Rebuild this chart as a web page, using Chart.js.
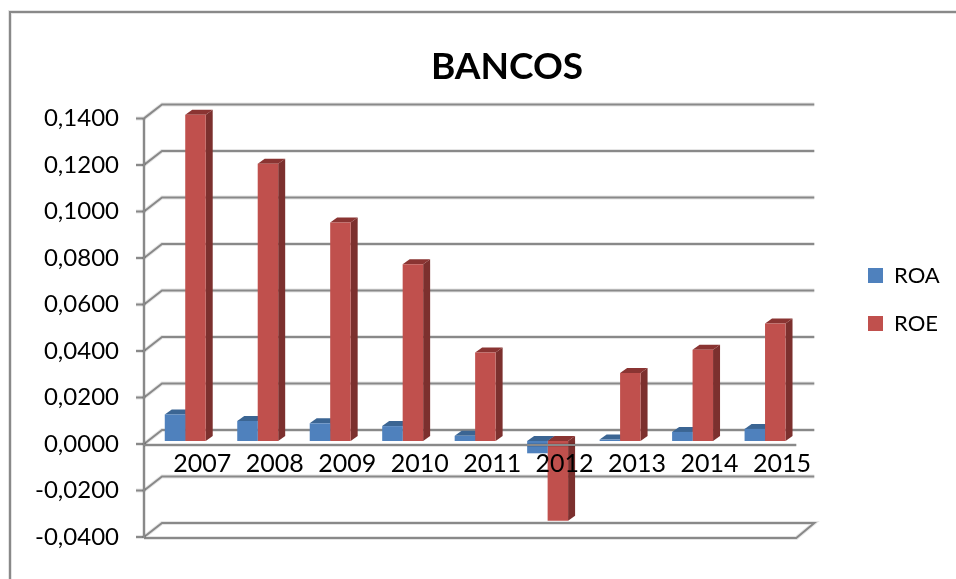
<!DOCTYPE html>
<html>
<head>
<meta charset="utf-8">
<title>BANCOS</title>
<script src="https://cdn.jsdelivr.net/npm/chart.js@4"></script>
<style>
  html, body { margin: 0; padding: 0; background: #fff; overflow: hidden; }
  canvas { display: block; }
</style>
</head>
<body>
<canvas id="grafica" width="956" height="579"></canvas>
<script>
// ========== DATOS ==========
const anios = ['2007', '2008', '2009', '2010', '2011', '2012', '2013', '2014', '2015'];
const roa = [0.0114, 0.0086, 0.0076, 0.0064, 0.0022, -0.0053, 0.0006, 0.0039, 0.0052];
const roe = [0.1403, 0.1192, 0.0939, 0.0760, 0.0380, -0.0343, 0.0292, 0.0392, 0.0505];
const etiquetasY = ['-0,0400', '-0,0200', '0,0000', '0,0200', '0,0400', '0,0600', '0,0800', '0,1000', '0,1200', '0,1400'];

// Colores estilo Excel
const GRIS = '#898989';
const FUENTE = 'Lato, "Open Sans", sans-serif';
const caras = [
  { arriba: '#3b6593', lado: '#35597f' },
  { arriba: '#8a3432', lado: '#7c302e' }
];

function linea(ctx, puntos) {
  ctx.beginPath();
  puntos.forEach((p, i) => i ? ctx.lineTo(p[0], p[1]) : ctx.moveTo(p[0], p[1]));
  ctx.strokeStyle = 'rgba(0,0,0,0.10)';
  ctx.lineWidth = 4;
  ctx.stroke();
  ctx.strokeStyle = GRIS;
  ctx.lineWidth = 2;
  ctx.stroke();
}

function poligono(ctx, puntos, color) {
  ctx.beginPath();
  puntos.forEach((p, i) => i ? ctx.lineTo(p[0], p[1]) : ctx.moveTo(p[0], p[1]));
  ctx.closePath();
  ctx.fillStyle = color;
  ctx.fill();
}

// ========== EFECTO 3D ==========
const efecto3d = {
  id: 'efecto3d',
  afterLayout(chart) {
    // Mover titulo y leyenda a su sitio
    chart.titleBlock.left += 55;
    chart.titleBlock.right += 55;
    chart.legend.left = 842;
    chart.legend.right = 956;
    chart.legend.top = 0;
    chart.legend.bottom = 599;
  },
  beforeDraw(chart) {
    const ctx = chart.ctx;
    ctx.save();
    linea(ctx, [[10, 590], [10, 12], [970, 12]]);
    const { left, right } = chart.chartArea;
    const y = chart.scales.y;
    y.ticks.forEach((t, i) => {
      if (i === 0) return;
      const py = y.getPixelForValue(t.value);
      linea(ctx, [[left - 8, py], [left, py], [left + 18, py - 14], [right + 18, py - 14]]);
    });
    // Piso inferior y eje vertical
    linea(ctx, [[left - 8, y.bottom], [left, y.bottom], [left + 18, y.bottom - 14], [right + 18, y.bottom - 14], [right, y.bottom + 1], [left, y.bottom + 1]]);
    linea(ctx, [[left, y.top], [left, y.bottom + 1]]);
    ctx.restore();
  },
  beforeDatasetsDraw(chart) {
    const ctx = chart.ctx;
    ctx.save();
    ctx.translate(5, -3);
    // Caras laterales y superiores, primero ROA y luego ROE
    chart.data.datasets.forEach((_, indice) => {
      const color = caras[indice];
      chart.getDatasetMeta(indice).data.forEach(barra => {
        const { x, y, base, width } = barra.getProps(['x', 'y', 'base', 'width'], true);
        const izq = x - width / 2;
        const der = x + width / 2;
        const arriba = Math.min(y, base);
        const abajo = Math.max(y, base);
        poligono(ctx, [[der, arriba], [der + 7, arriba - 5], [der + 7, abajo - 5], [der, abajo]], color.lado);
        poligono(ctx, [[izq, arriba], [izq + 7, arriba - 5], [der + 7, arriba - 5], [der, arriba]], color.arriba);
      });
    });
  },
  afterDatasetsDraw(chart) {
    const ctx = chart.ctx;
    ctx.restore();
    // La linea frontal del cero pasa por encima de las barras
    const { left, right } = chart.chartArea;
    const py = chart.scales.y.getPixelForValue(0) + 1;
    linea(ctx, [[left, py], [right, py]]);
  }
};

// ========== CREAR GRAFICA ==========
new Chart(document.getElementById('grafica'), {
  type: 'bar',
  data: {
    labels: anios,
    datasets: [
      { label: 'ROA', data: roa, backgroundColor: '#4f81bd', clip: false },
      { label: 'ROE', data: roe, backgroundColor: '#c0504d', clip: false }
    ]
  },
  options: {
    responsive: false,
    animation: false,
    layout: { padding: { top: 0, left: 0, right: 52, bottom: 42 } },
    datasets: { bar: { categoryPercentage: 0.565, barPercentage: 1 } },
    plugins: {
      title: {
        display: true,
        text: 'BANCOS',
        color: '#000',
        font: { family: FUENTE, size: 37, weight: 'bold' },
        padding: { top: 45, bottom: 29 }
      },
      legend: {
        position: 'right',
        labels: {
          color: '#000',
          font: { family: FUENTE, size: 22 },
          boxWidth: 15,
          boxHeight: 15,
          padding: 26
        }
      },
      tooltip: { enabled: false }
    },
    scales: {
      x: {
        position: { y: 0 },
        grid: { display: false, drawTicks: false },
        border: { display: false },
        ticks: {
          color: '#000',
          z: 1,
          padding: 5,
          labelOffset: 22,
          maxRotation: 0,
          autoSkip: false,
          font: { family: FUENTE, size: 25 }
        }
      },
      y: {
        min: -0.04,
        max: 0.14,
        grid: { display: false, drawTicks: false },
        border: { display: false },
        afterFit(escala) { escala.width = 144; },
        ticks: {
          stepSize: 0.02,
          color: '#000',
          padding: 25,
          font: { family: FUENTE, size: 24 },
          callback: (valor, i) => etiquetasY[i]
        }
      }
    }
  },
  plugins: [efecto3d]
});
</script>
</body>
</html>
